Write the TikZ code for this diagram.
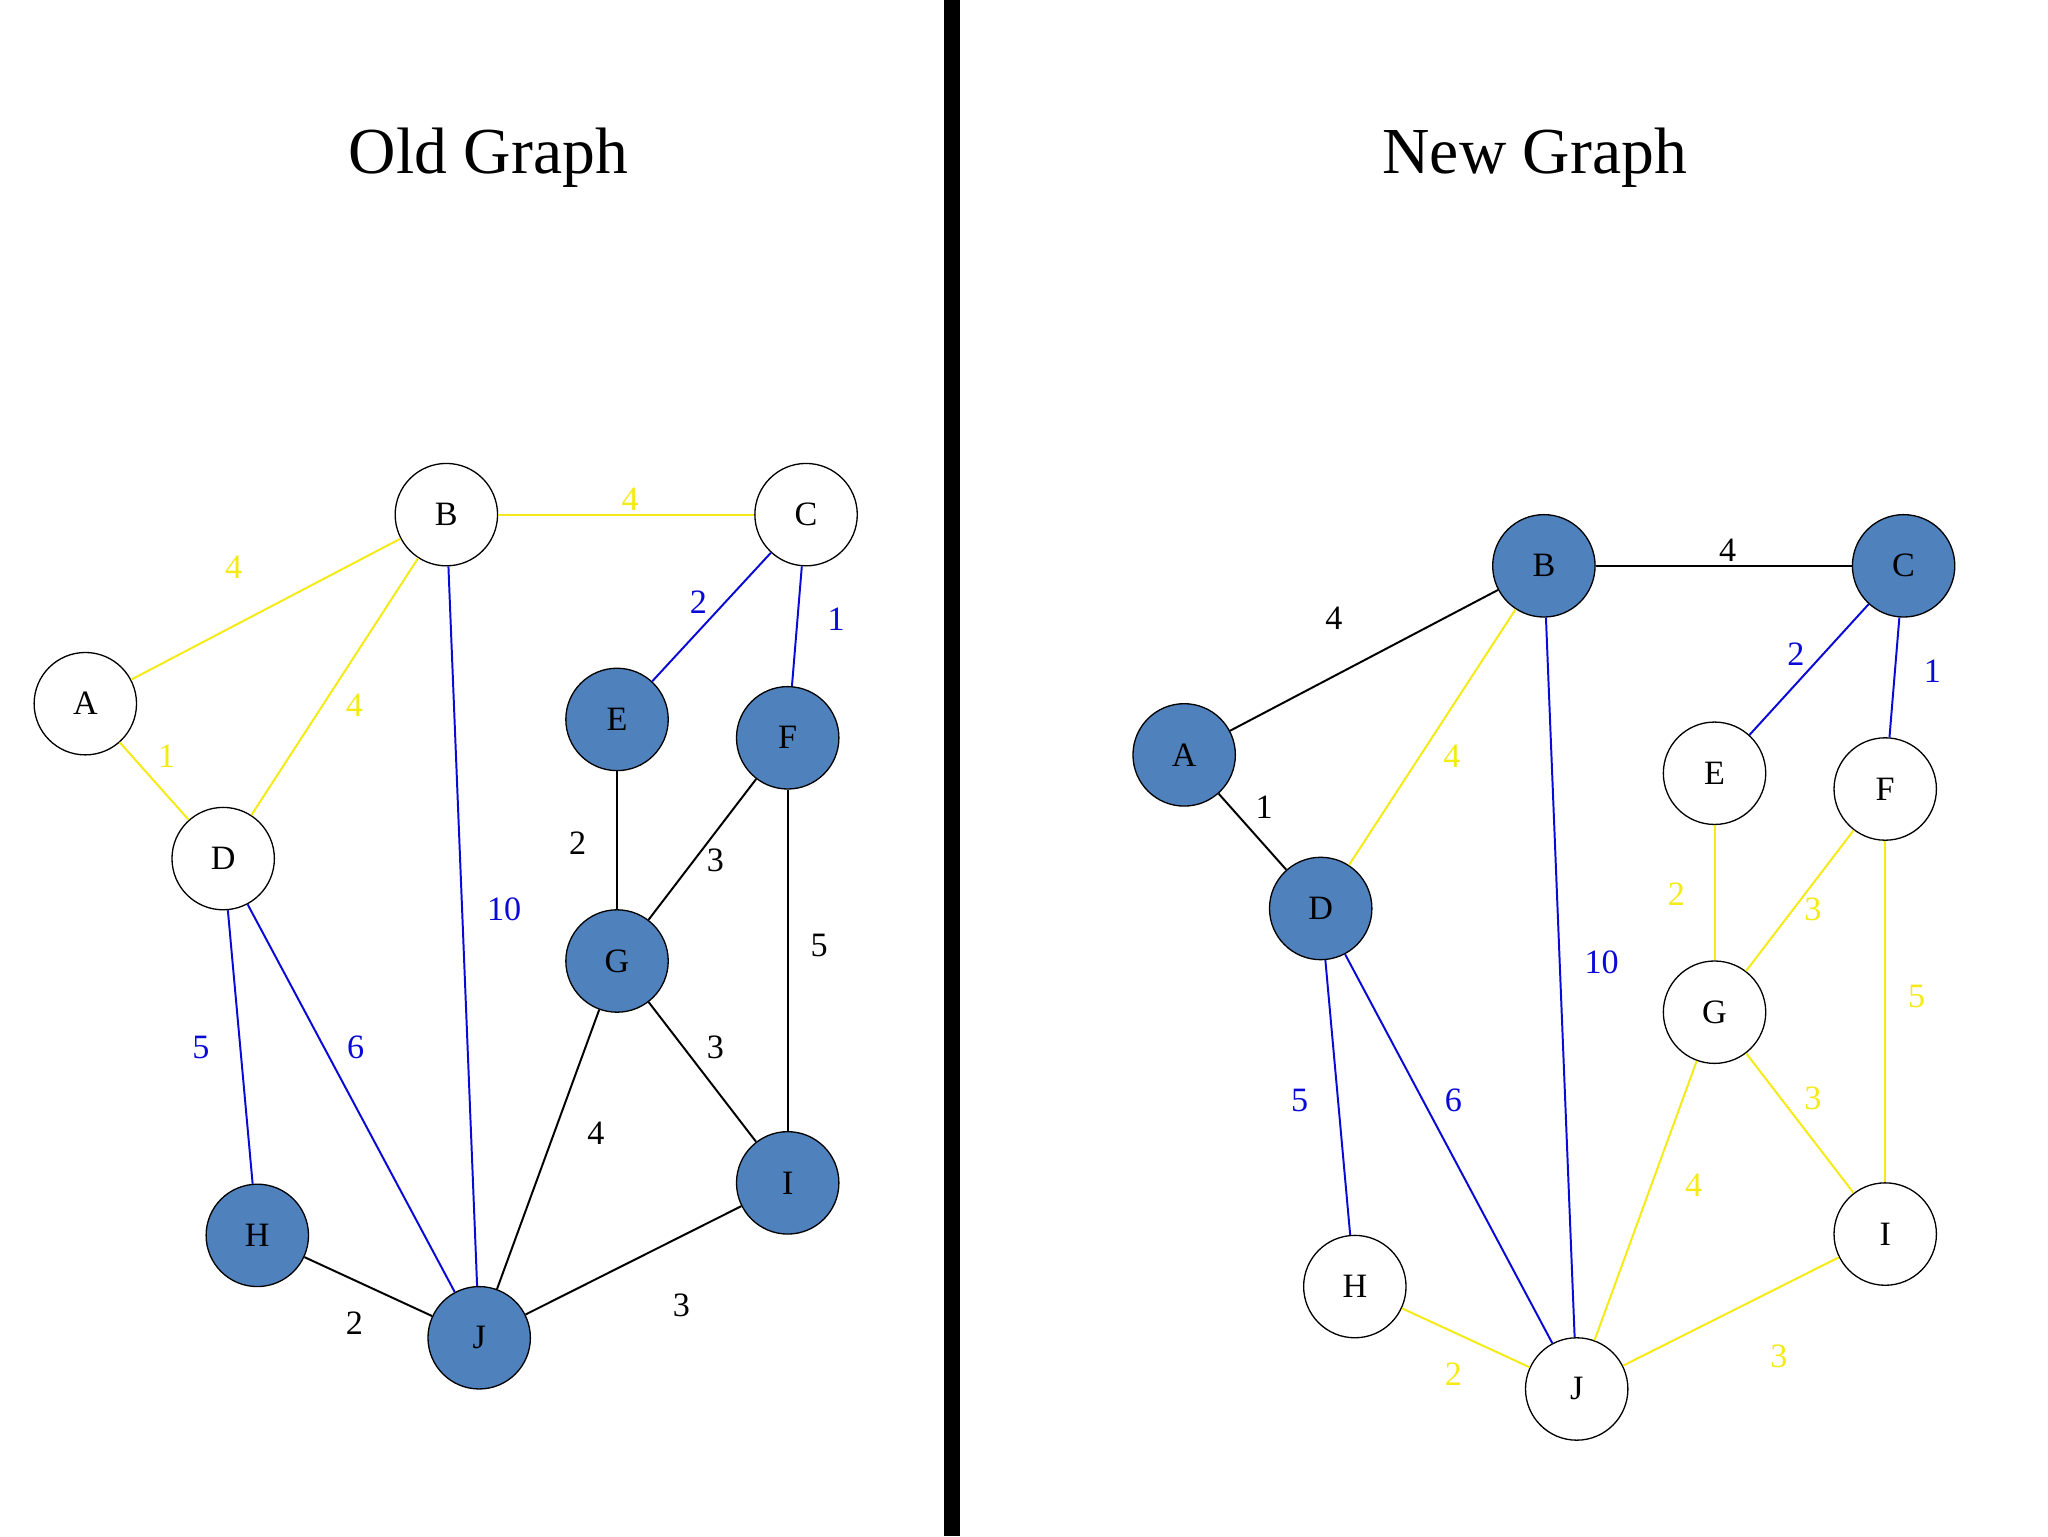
\documentclass[tikz,border=0pt]{standalone}
\usepackage{fontspec}
\setmainfont{Liberation Serif}
\begin{document}
\begin{tikzpicture}[x=1pt,y=-1pt,
  v/.style={circle,draw=black,line width=1pt,minimum size=78pt,inner sep=0pt,font=\fontsize{26}{26}\selectfont},
  w/.style={v,fill=white},
  f/.style={v,fill=nodeblue},
  e/.style={line width=1.5pt},
  lab/.style={font=\fontsize{26}{26}\selectfont}]
\definecolor{nodeblue}{RGB}{79,129,189}
\definecolor{ye}{RGB}{245,235,20}
\definecolor{bl}{RGB}{10,10,215}
\useasboundingbox[fill=white] (0,0) rectangle (1560,1170);
\fill[black] (719,0) rectangle (731,1170);
\node[font=\fontsize{50}{50}\selectfont] (t1) at (372,120) {Old Graph};
\node[font=\fontsize{50}{50}\selectfont] (t2) at (1169,120) {New Graph};
% old graph
\foreach \n/\x/\y/\s in {A/65/536/w,B/340/392/w,C/614/392/w,D/170/654/w,E/470/548/f,F/600/562/f,G/470/732/f,H/196/941/f,I/600/901/f,J/365/1019/f}
  \node[\s] (o\n) at (\x,\y) {\n};
% new graph
\foreach \n/\x/\y/\s in {A/902/575/f,B/1176/431/f,C/1450/431/f,D/1006/692/f,E/1306/589/w,F/1436/601/w,G/1306/771/w,H/1032/980/w,I/1436/940/w,J/1201/1058/w}
  \node[\s] (n\n) at (\x,\y) {\n};
\begin{scope}[on background layer/.style={}]
\end{scope}
\foreach \a/\b/\c/\lx/\ly/\t in {A/B/ye/178/432/4,A/D/ye/127/576/1,B/C/ye/480/380/4,B/D/ye/270/537/4,B/J/bl/384/693/10,C/E/bl/532/459/2,C/F/bl/637/472/1,D/H/bl/153/798/5,D/J/bl/271/798/6,E/G/black/440/642/2,F/G/black/545/655/3,F/I/black/624/720/5,G/I/black/545/798/3,G/J/black/454/863/4,H/J/black/270/1008/2,J/I/black/519/994/3}
  {\draw[e,\c] (o\a) -- (o\b); \node[lab,text=\c] (ol\a\b) at (\lx,\ly) {\t};}
\foreach \a/\b/\c/\lx/\ly/\t in {A/B/black/1016/471/4,A/D/black/963/615/1,B/C/black/1316/419/4,B/D/ye/1106/576/4,B/J/bl/1220/733/10,C/E/bl/1368/498/2,C/F/bl/1472/511/1,D/H/bl/990/838/5,D/J/bl/1107/838/6,E/G/ye/1277/681/2,F/G/ye/1381/693/3,F/I/ye/1460/759/5,G/I/ye/1381/837/3,G/J/ye/1290/903/4,H/J/ye/1107/1047/2,J/I/ye/1355/1033/3}
  {\draw[e,\c] (n\a) -- (n\b); \node[lab,text=\c] (nl\a\b) at (\lx,\ly) {\t};}
\end{tikzpicture}
\end{document}
